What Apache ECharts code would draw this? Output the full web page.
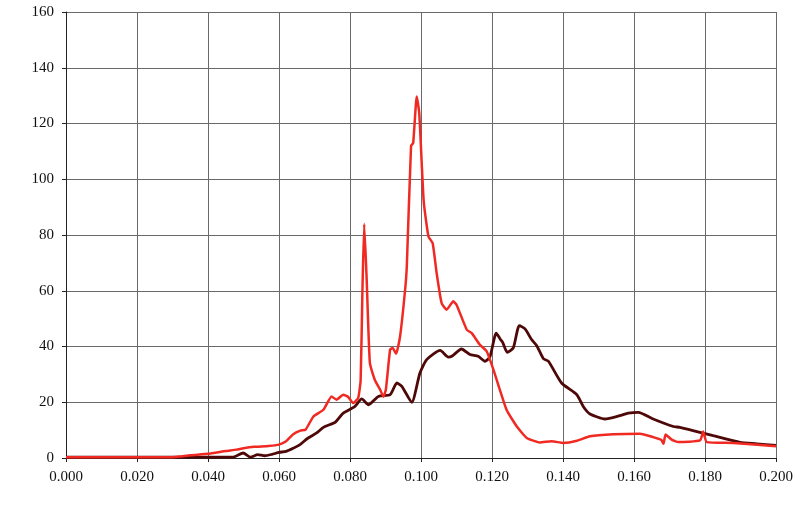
<!DOCTYPE html>
<html><head><meta charset="utf-8">
<script src="https://cdn.jsdelivr.net/npm/echarts@6/dist/echarts.min.js"></script>
<style>html,body{margin:0;padding:0;background:#fff}#c{width:800px;height:517px}</style>
</head><body><div id="c"></div>
<script>
var xTicks = [0, 0.02, 0.04, 0.06, 0.08, 0.1, 0.12, 0.14, 0.16, 0.18, 0.2];
var yTicks = [0, 20, 40, 60, 80, 100, 120, 140, 160];
var redPoints = [[0,0.3],[0.030,0.3],[0.032,0.5],[0.035,1],[0.040,1.5],[0.045,2.5],[0.048,3],[0.050,3.5],[0.053,4],[0.057,4.3],[0.060,4.8],[0.062,6],[0.064,8.5],[0.066,9.8],[0.0675,10.2],[0.0697,14.9],[0.0725,17.3],[0.0748,22.1],[0.0762,20.9],[0.0781,22.7],[0.0795,21.9],[0.0809,19.7],[0.0823,21.5],[0.0830,28],[0.0835,60],[0.0840,84],[0.0847,64],[0.0856,34],[0.0870,28],[0.0885,24.5],[0.0894,22],[0.0901,24.5],[0.0913,38.9],[0.0920,39.5],[0.0930,37.4],[0.0941,43.6],[0.0955,60],[0.0960,68.7],[0.0972,112],[0.0978,113],[0.0988,129.7],[0.0995,123.8],[0.1002,105.8],[0.1008,91.5],[0.1021,79.5],[0.1033,77],[0.1044,66.4],[0.1058,55.6],[0.1072,53.2],[0.1091,56.2],[0.1100,55],[0.1129,46],[0.1143,44.8],[0.1166,40.6],[0.1185,38.3],[0.1204,31.7],[0.1241,17.3],[0.1270,11.3],[0.1298,7.2],[0.1335,5.6],[0.1368,6],[0.1401,5.4],[0.1439,6.2],[0.1476,7.8],[0.1542,8.5],[0.1617,8.7],[0.1654,7.5],[0.1677,6.5],[0.1683,5.1],[0.1689,8.4],[0.1706,6.6],[0.1725,5.7],[0.1786,6.3],[0.1795,9.5],[0.1805,5.7],[0.1880,5.4],[0.2000,4.2]];
var darkPoints = [[0,0.3],[0.047,0.3],[0.0499,1.8],[0.052,0.3],[0.054,1.2],[0.056,0.8],[0.058,1.3],[0.060,2],[0.062,2.4],[0.064,3.5],[0.0659,4.8],[0.068,7],[0.0706,9],[0.0725,11],[0.0744,12],[0.0758,12.8],[0.0781,16.1],[0.0814,18.5],[0.0833,21.2],[0.0852,19.1],[0.088,22.1],[0.0913,22.7],[0.0932,26.9],[0.0946,25.7],[0.0974,20],[0.0997,30.5],[0.1016,35.3],[0.1054,38.6],[0.1077,36.2],[0.1088,36.6],[0.1114,39.1],[0.1138,37.1],[0.1161,36.5],[0.118,34.7],[0.1194,36.2],[0.1212,44.8],[0.1223,42.7],[0.123,41.5],[0.1243,37.9],[0.126,39.5],[0.1277,47.5],[0.1293,46.3],[0.1312,42.4],[0.1326,40.3],[0.1345,35.6],[0.1359,34.7],[0.1396,26.9],[0.1439,22.7],[0.1457,18.5],[0.1476,15.8],[0.1518,14],[0.156,15.2],[0.1584,16.1],[0.1612,16.4],[0.1654,14],[0.1711,11.3],[0.1729,11],[0.1777,9.5],[0.1823,8],[0.1899,5.6],[0.1946,5.1],[0.2,4.5]];

var chart = echarts.init(document.getElementById('c'), null, {renderer:'canvas'});
var font = {fontFamily:'Liberation Serif', fontSize:15, color:'#111'};
chart.setOption({
  animation:false,
  backgroundColor:'#fff',
  grid:{left:66, right:24, top:12, bottom:59, containLabel:false},
  xAxis:{type:'value', min:xTicks[0], max:xTicks[xTicks.length-1], interval:0.02,
    axisLine:{lineStyle:{color:'#222', width:1}},
    axisTick:{show:true, length:4, lineStyle:{color:'#222'}},
    axisLabel:Object.assign({margin:12, formatter:function(v){return v.toFixed(3);}}, font),
    splitLine:{show:true, lineStyle:{color:'#6a6a6a', width:1}}},
  yAxis:{type:'value', min:yTicks[0], max:yTicks[yTicks.length-1], interval:20,
    axisLine:{show:true, lineStyle:{color:'#222', width:1}},
    axisTick:{show:true, length:4, lineStyle:{color:'#222'}},
    axisLabel:Object.assign({margin:12}, font),
    splitLine:{show:true, lineStyle:{color:'#6a6a6a', width:1}}},
  series:[
    {type:'line', data:darkPoints, showSymbol:false, smooth:0.2, lineStyle:{color:'#4f0808', width:2.8}, z:2},
    {type:'line', data:redPoints, showSymbol:false, smooth:0.15, lineStyle:{color:'#f02a22', width:2.5}, z:3}
  ]
});
</script></body></html>
